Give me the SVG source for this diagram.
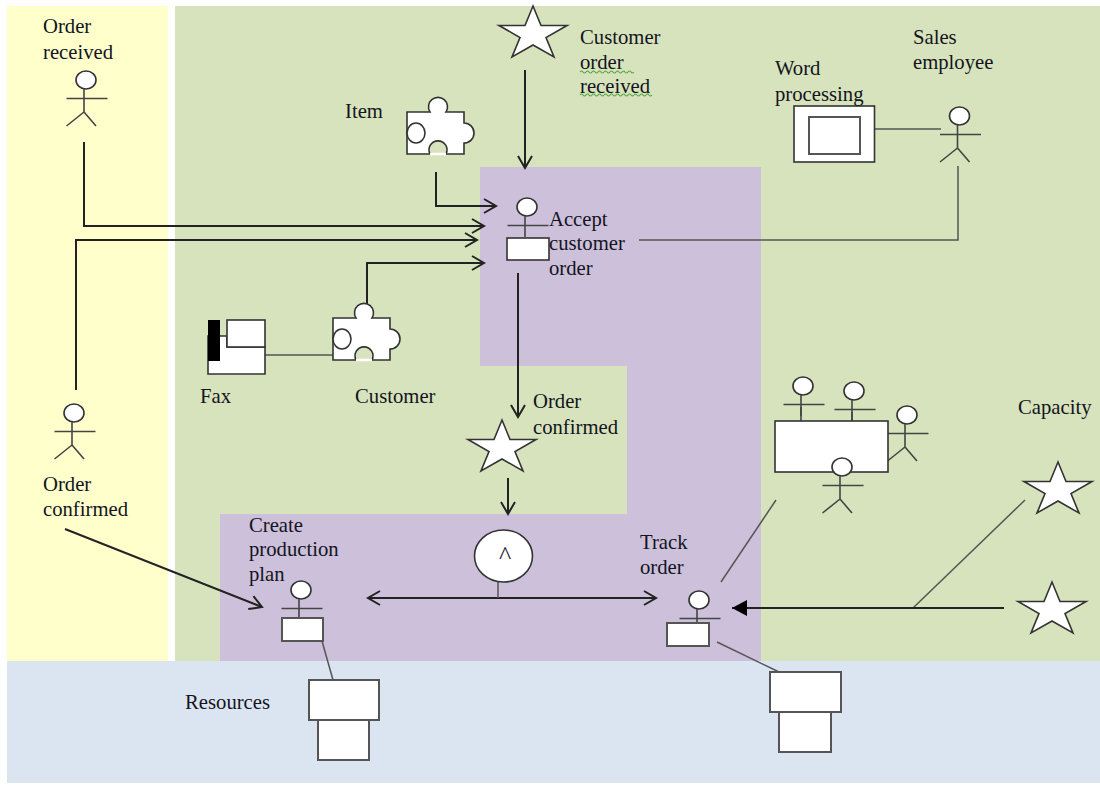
<svg xmlns="http://www.w3.org/2000/svg" width="1100" height="785" viewBox="0 0 1100 785">
<style>
text{font-family:"Liberation Serif","Times New Roman",serif;font-size:20.700px;fill:#14141e}
.s{fill:#fff;stroke:#333;stroke-width:1.6}
.r{fill:#fff;stroke:#555;stroke-width:2}
.l{fill:none;stroke:#444;stroke-width:1.6}
.c{fill:none;stroke:#222;stroke-width:2}
.t{fill:none;stroke:#555;stroke-width:1.5}
.a{marker-end:url(#open)}
.w{fill:none;stroke:#5aa84a;stroke-width:1.2}
</style>
<defs>
<marker id="open" markerUnits="userSpaceOnUse" markerWidth="16" markerHeight="18" refX="14" refY="9" orient="auto-start-reverse"><path d="M2 2 14 9 2 16" fill="none" stroke="#222" stroke-width="2"/></marker>
<marker id="solid" markerUnits="userSpaceOnUse" markerWidth="16" markerHeight="18" refX="15" refY="8" orient="auto"><path d="M0 0 15 8 0 16Z" fill="#000"/></marker>
<polygon id="star" class="s" points="0,0 8,19.500 34,19.500 13,31.500 21,51 0,39 -21,51 -13,31.500 -34,19.500 -8,19.500"/>
<g id="puzzle">
<path class="s" d="M0 42V0H23A9.500 9.500 0 1 1 39 0H57V11A10 10 0 1 1 57 31V42H39A9 9 0 1 0 23 42Z"/>
<ellipse class="s" cx="9" cy="21" rx="9" ry="10"/>
<path d="M23 42H39" stroke="#fff" stroke-width="2.500"/>
</g>
<g id="person">
<ellipse class="s" cx="0" cy="0" rx="10" ry="9"/>
<path class="l" d="M-19.500 18.500H21.500M-2 9V32M-2 32-19.500 46M-2 32 10 46"/>
</g>
<g id="task">
<ellipse class="s" cx="0" cy="0" rx="10" ry="9"/>
<path class="l" d="M-19.500 18.500H21.500M-2 9V30"/>
</g>
</defs>

<g id="regions">
<rect x="7" y="6" width="161" height="655" fill="#ffffcc"/>
<rect x="175" y="6" width="925" height="655" fill="#d7e3bc"/>
<rect x="7" y="661" width="1093" height="122" fill="#dbe5f1"/>
<polygon points="480,167 761,167 761,661 220,661 220,514 627,514 627,366 480,366" fill="#ccc0da"/>
</g>

<g id="connectors">
<path class="c a" d="M525 70V168"/>
<path class="c a" d="M436 172V206H496"/>
<path class="c a" d="M84 142V226H484"/>
<path class="c a" d="M76 390V240H477"/>
<path class="c a" d="M367 305V263H484"/>
<path class="t" d="M639 240H958V166"/>
<path class="c a" d="M518 273V417"/>
<path class="c a" d="M508 478V514"/>
<path class="c a" d="M65 529 262 607"/>
<path class="c" style="marker-start:url(#open);marker-end:url(#open)" d="M368 598H656"/>
<path class="t" d="M498 582V598"/>
<path class="t" d="M721 582 776 500"/>
<path class="t" d="M1025 500 913 608"/>
<path class="c" marker-end="url(#solid)" d="M1004 608H732"/>
<path class="t" d="M322 641 333 680"/>
<path class="t" d="M717 642 779 672"/>
<path class="t" d="M875 129H941"/>
<path class="t" d="M265 355H333"/>
</g>

<g id="order-received"><use href="#person" x="86" y="80"/><text x="43" y="33">Order</text><text x="43" y="59">received</text></g>
<g id="order-confirmed-left"><use href="#person" x="74" y="413"/><text x="43" y="491">Order</text><text x="43" y="516">confirmed</text></g>
<g id="customer-order-received"><use href="#star" x="533" y="6"/><text x="580" y="44">Customer</text><text x="580" y="69">order</text><text x="580" y="93">received</text>
<path class="w" d="M580 72q1.500 -2 3 0t3 0 3 0 3 0 3 0 3 0 3 0 3 0 3 0 3 0 3 0 3 0 3 0 3 0 3 0 3 0 3 0 3 0M580 95q1.500 -2 3 0t3 0 3 0 3 0 3 0 3 0 3 0 3 0 3 0 3 0 3 0 3 0 3 0 3 0 3 0 3 0 3 0 3 0 3 0 3 0 3 0 3 0 3 0 3 0"/></g>
<g id="item"><use href="#puzzle" x="407" y="112"/><text x="345" y="118">Item</text></g>
<g id="word-processing"><rect class="s" x="794" y="106" width="80.500" height="56"/><rect class="r" x="809" y="117" width="51" height="37"/><text x="775" y="75">Word</text><text x="775" y="101">processing</text></g>
<g id="sales-employee"><use href="#person" x="959.500" y="116"/><text x="913" y="44">Sales</text><text x="913" y="69">employee</text></g>
<g id="accept-customer-order"><use href="#task" x="527" y="207"/><rect class="s" x="507" y="238" width="42" height="22"/><text x="549" y="226">Accept</text><text x="549" y="250">customer</text><text x="549" y="275">order</text></g>
<g id="fax"><path class="s" d="M208 336H227V347H265V374H208Z"/><rect x="208" y="320" width="12" height="41" fill="#000"/><rect class="s" x="227" y="320" width="38" height="27"/><text x="200" y="403">Fax</text></g>
<g id="customer"><use href="#puzzle" x="333" y="318"/><text x="355" y="403">Customer</text></g>
<g id="order-confirmed"><use href="#star" x="502" y="420"/><text x="533" y="408">Order</text><text x="533" y="434">confirmed</text></g>
<g id="clock"><ellipse class="s" cx="503.500" cy="556" rx="29" ry="26"/><text x="505" y="564" text-anchor="middle" style="font-size:26px">^</text></g>
<g id="create-production-plan"><use href="#task" x="301" y="590"/><rect class="r" x="282" y="618" width="41" height="23"/><text x="249" y="532">Create</text><text x="249" y="556">production</text><text x="249" y="581">plan</text></g>
<g id="track-order"><use href="#task" x="699" y="600"/><rect class="r" x="667" y="623" width="42" height="23"/><text x="640" y="549">Track</text><text x="640" y="574">order</text></g>
<g id="team">
<use href="#task" x="803" y="386"/><path class="l" d="M801 407V421"/>
<use href="#task" x="854" y="391"/><path class="l" d="M852 412V421"/>
<use href="#person" x="907" y="415"/>
<rect class="s" x="775" y="421" width="113" height="51"/>
<use href="#person" x="842" y="467"/>
</g>
<g id="capacity"><use href="#star" x="1058" y="462"/><text x="1018" y="414">Capacity</text></g>
<g id="capacity-event"><use href="#star" x="1052" y="582"/></g>
<g id="resources"><text x="185" y="709">Resources</text><rect class="r" x="318" y="720" width="51" height="40"/><rect class="r" x="309" y="680" width="70" height="40"/></g>
<g id="track-resources"><rect class="r" x="779" y="712" width="52" height="40"/><rect class="r" x="770" y="672" width="71" height="40"/></g>
</svg>
